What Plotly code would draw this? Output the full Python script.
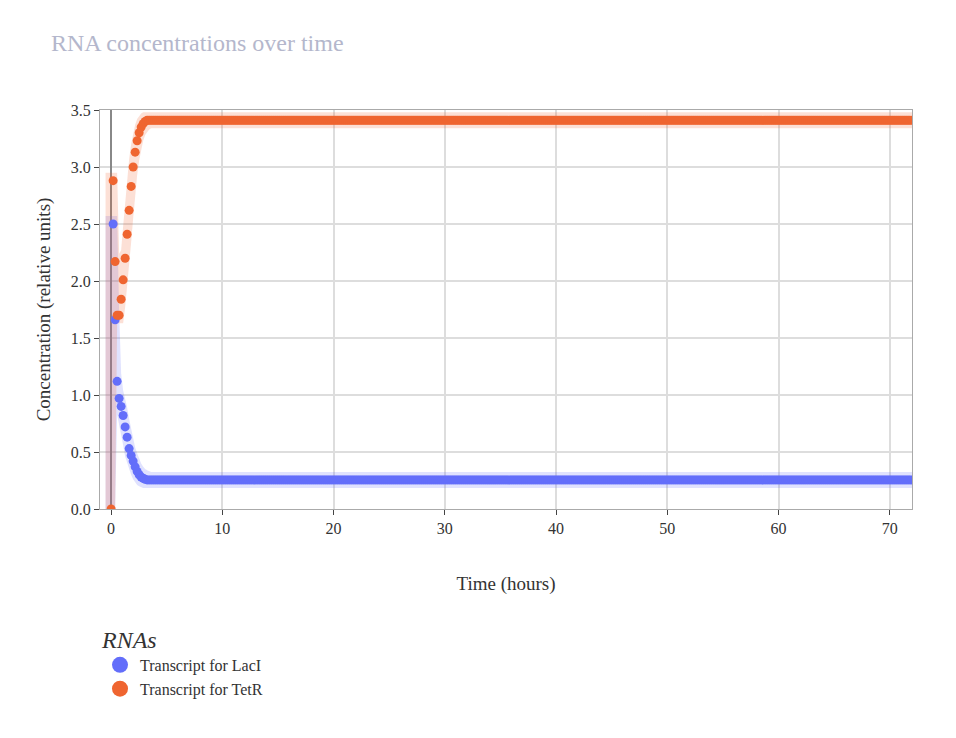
import plotly.graph_objects as go

step = 0.18
n_total = 401  # 0 .. 72 h

lacI_early = [None, 2.50, 1.66, 1.12, 0.97, 0.90, 0.82, 0.72, 0.63, 0.53, 0.47,
              0.42, 0.37, 0.33, 0.30, 0.28, 0.27, 0.26]
tetR_early = [0.0, 2.88, 2.17, 1.70, 1.70, 1.84, 2.01, 2.20, 2.41, 2.62, 2.83,
              3.00, 3.13, 3.23, 3.30, 3.35, 3.38, 3.40]

times = [round(i * step, 2) for i in range(n_total)]
lacI = lacI_early + [0.255] * (n_total - len(lacI_early))
tetR = tetR_early + [3.41] * (n_total - len(tetR_early))

names = ["Transcript for LacI", "Transcript for TetR"]
colors = ["#636efa", "#ef6530"]
bands = ["rgba(99,110,250,0.2)", "rgba(239,101,48,0.2)"]


def envelope(vals, pad):
    v = [x if x is not None else 0.0 for x in vals]
    up, lo = [], []
    for i in range(len(v)):
        w = v[max(0, i - 2):i + 3]
        up.append(max(w) + pad)
        lo.append(max(min(w) - pad, 0))
    return up, lo


fig = go.Figure()
for name, vals, col, band in zip(names, [lacI, tetR], colors, bands):
    up, lo = envelope(vals, 0.07)
    bx = [-0.5] + times
    fig.add_trace(go.Scatter(x=bx, y=[up[0]] + up, mode="lines", line=dict(width=0),
                             showlegend=False, hoverinfo="skip"))
    fig.add_trace(go.Scatter(x=bx, y=[0] + lo, mode="lines", line=dict(width=0),
                             fill="tonexty", fillcolor=band, showlegend=False, hoverinfo="skip"))
for name, vals, col in zip(names, [lacI, tetR], colors):
    fig.add_trace(go.Scatter(x=times, y=vals, mode="markers", name=name, showlegend=False,
                             marker=dict(color=col, size=9)))
    # legend-only entry with a bigger marker
    fig.add_trace(go.Scatter(x=[None], y=[None], mode="markers", name=name,
                             marker=dict(color=col, size=20)))

font = "Liberation Serif"
fig.update_layout(
    width=956, height=738,
    paper_bgcolor="white", plot_bgcolor="white",
    font=dict(family=font, size=16, color="#333"),
    title=dict(text="RNA concentrations over time", x=0.045, y=0.965, xanchor="left",
               font=dict(family=font, size=24, color="#b4b7cc")),
    margin=dict(l=92, r=52, t=102, b=237),
    xaxis=dict(title=dict(text="Time (hours)", standoff=40), range=[-1, 72],
               tickvals=[0, 10, 20, 30, 40, 50, 60, 70], ticks="outside",
               showgrid=True, gridcolor="#dddddd", gridwidth=1.5,
               showline=True, linecolor="#aaaaaa", mirror=True,
               zeroline=True, zerolinecolor="#888888", zerolinewidth=2),
    yaxis=dict(title=dict(text="Concentration (relative units)"), range=[0, 3.5],
               dtick=0.5, tickformat=".1f", ticks="outside",
               showgrid=True, gridcolor="#dddddd", gridwidth=1.5,
               showline=True, linecolor="#aaaaaa", mirror=True, zeroline=False),
    legend=dict(title=dict(text="<i>RNAs</i>", font=dict(size=24)), traceorder="normal",
                x=0.0, y=-0.27, xanchor="left", yanchor="top", font=dict(size=16)),
)
fig.write_html("out.html")
